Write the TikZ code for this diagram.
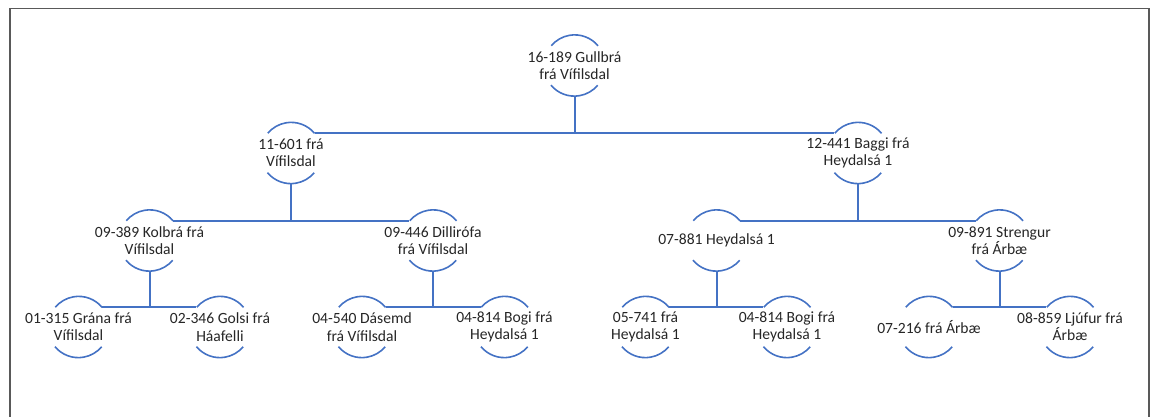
\documentclass[tikz,border=0pt]{standalone}
\usepackage{fontspec}
\setmainfont{Carlito}
\definecolor{lineblue}{HTML}{4472C4}
\definecolor{txt}{HTML}{262626}
\definecolor{frame}{HTML}{595959}
\tikzset{
  pcirc/.style={circle, inner sep=0pt, minimum size=61pt},
  ptext/.style={inner sep=0pt, align=center, text=txt, font=\fontsize{15.6}{17.3}\selectfont},
  arcst/.style={draw=lineblue, line width=1.6pt},
  conn/.style={draw=lineblue, line width=2pt},
}
\newcommand\persnode[4]{%
  \node[pcirc] (#1) at (#2,#3) {};
  \node[ptext] (#1-t) at (#1) {#4};
  \draw[arcst] (#1.40) arc[start angle=40, end angle=140, radius=30.5pt];
  \draw[arcst] (#1.220) arc[start angle=220, end angle=320, radius=30.5pt];
}
\begin{document}
\begin{tikzpicture}[x=1pt,y=1pt]
\useasboundingbox (0,0) rectangle (1163,-417);
\draw[frame, line width=1.6pt] (10,-8.5) rectangle (1149,-440);
% level 0
\persnode{g}{574.5}{-65.5}{16-189 Gullbrá\\frá Vífilsdal}
% level 1
\persnode{a}{291}{-153}{11-601 frá\\Vífilsdal}
\persnode{b}{858}{-153}{12-441 Baggi frá\\Heydalsá 1}
% level 2
\persnode{aa}{149.5}{-240.5}{09-389 Kolbrá frá\\Vífilsdal}
\persnode{ab}{433}{-240.5}{09-446 Dillirófa\\frá Vífilsdal}
\persnode{ba}{716.5}{-240.5}{07-881 Heydalsá 1}
\persnode{bb}{999.5}{-240.5}{09-891 Strengur\\frá Árbæ}
% level 3
\persnode{aaa}{78.5}{-327}{01-315 Grána frá\\Vífilsdal}
\persnode{aab}{220}{-327}{02-346 Golsi frá\\Háafelli}
\persnode{aba}{362}{-327}{04-540 Dásemd\\frá Vífilsdal}
\persnode{abb}{504.5}{-327}{04-814 Bogi frá\\Heydalsá 1}
\persnode{baa}{645.5}{-327}{05-741 frá\\Heydalsá 1}
\persnode{bab}{787}{-327}{04-814 Bogi frá\\Heydalsá 1}
\persnode{bba}{929}{-327}{07-216 frá Árbæ}
\persnode{bbb}{1070}{-327}{08-859 Ljúfur frá\\Árbæ}
% connectors
\foreach \p/\l/\r in {g/a/b, a/aa/ab, b/ba/bb, aa/aaa/aab, ab/aba/abb, ba/baa/bab, bb/bba/bbb}{
  \draw[conn] (\l.40) -- (\r.140);
  \draw[conn] (\p.south) -- (\p.south |- \l.40);
}
\end{tikzpicture}
\end{document}
